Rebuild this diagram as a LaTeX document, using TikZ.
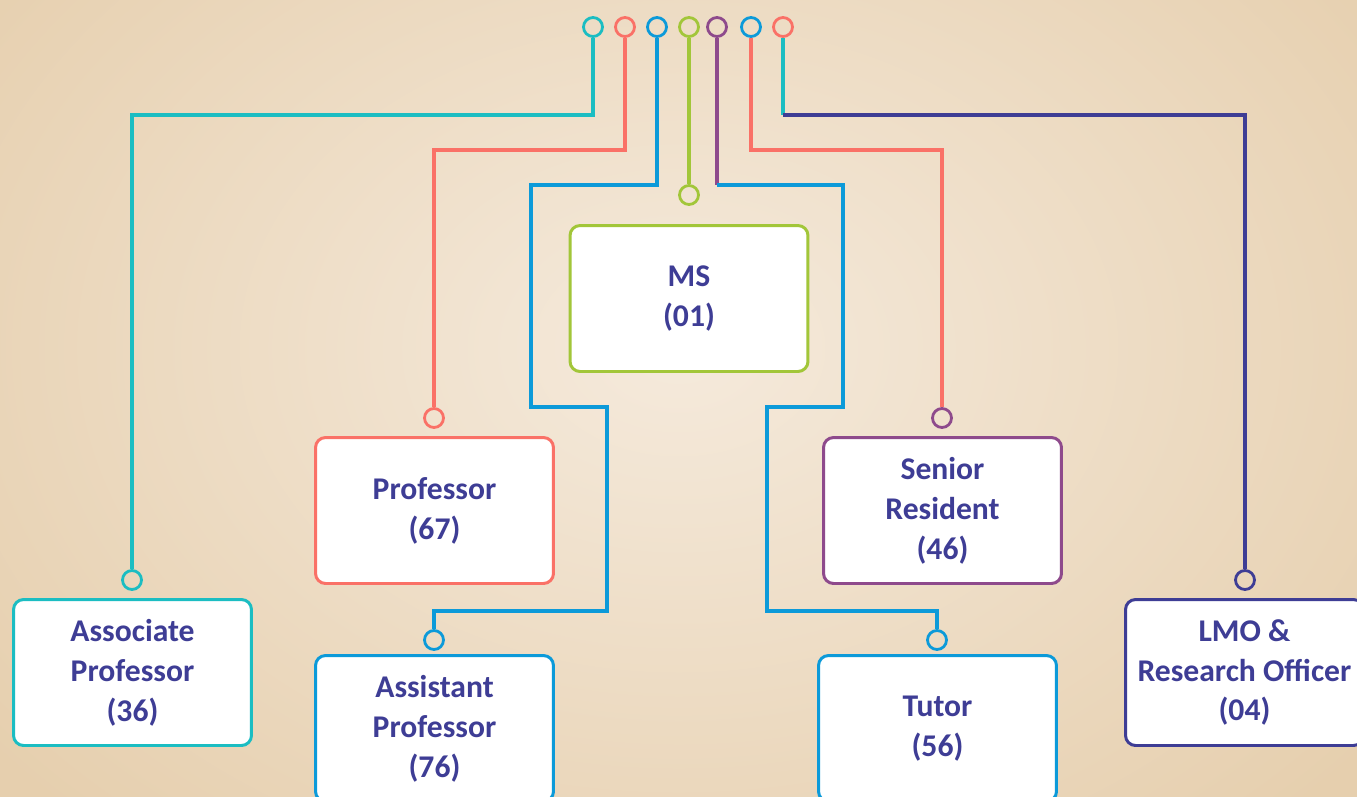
\documentclass[tikz,border=0pt]{standalone}
\usepackage{fontspec}
\setmainfont{Carlito}
\usepackage{xcolor}
\definecolor{lteal}{HTML}{1BBDC2}
\definecolor{lsalmon}{HTML}{FA7167}
\definecolor{lblue}{HTML}{0C9AD9}
\definecolor{lgreen}{HTML}{A2C639}
\definecolor{lpurple}{HTML}{8E4A8C}
\definecolor{lindigo}{HTML}{3E3D95}
\definecolor{bgin}{HTML}{F5EADC}
\definecolor{bgout}{HTML}{E6CFAE}
\begin{document}
\begin{tikzpicture}[x=0.02cm, y=-0.02cm,
    ln/.style={line width=1.9pt},
    ring/.style={circle, draw=#1, line width=1.6pt, minimum size=0.38cm, inner sep=0pt},
    post/.style={draw=#1, fill=white, line width=1.7pt, rounded corners=0.2cm,
      minimum width=4.76cm, minimum height=2.92cm, align=center, text=lindigo,
      font=\fontsize{18}{22.7}\selectfont\bfseries}]
    \clip (0,0) rectangle (1357,796);
    \shade[inner color=bgin, outer color=bgout] (-200,-300) rectangle (1557,996);
    \node[ring=lteal] (t1) at (593, 27) {};
    \node[ring=lsalmon] (t2) at (625, 27) {};
    \node[ring=lblue] (t3) at (657, 27) {};
    \node[ring=lgreen] (t4) at (689, 27) {};
    \node[ring=lpurple] (t5) at (717, 27) {};
    \node[ring=lblue] (t6) at (751, 27) {};
    \node[ring=lsalmon] (t7) at (783, 27) {};
    \node[ring=lgreen] (cms) at (689, 195) {};
    \node[ring=lsalmon] (cpr) at (434, 418) {};
    \node[ring=lpurple] (csr) at (942, 418) {};
    \node[ring=lteal] (cas) at (132, 580) {};
    \node[ring=lindigo] (clmo) at (1245, 580) {};
    \node[ring=lblue] (cap) at (434, 640) {};
    \node[ring=lblue] (ctu) at (937, 640) {};
    \node[post=lgreen] (ms) at (689, 298.5) {MS\\(01)};
    \node[post=lsalmon] (pr) at (434.5, 510.5) {Professor\\(67)};
    \node[post=lpurple] (sr) at (942.5, 510.5) {Senior\\Resident\\(46)};
    \node[post=lteal] (as) at (132.5, 672.5) {Associate\\Professor\\(36)};
    \node[post=lblue] (ap) at (434.5, 728.5) {Assistant\\Professor\\(76)};
    \node[post=lblue] (tu) at (937.5, 728.5) {Tutor\\(56)};
    \node[post=lindigo] (lmo) at (1244.5, 672.5) {LMO \&\\Research Officer\\(04)};
    \coordinate (k5) at (717, 185);
    \coordinate (k7) at (783, 115);
    \draw [ln, lteal] (t1.south) |- (132, 115) -- (cas.north);
    \draw [ln, lsalmon] (t2.south) |- (434, 150) -- (cpr.north);
    \draw [ln, lblue] (t3.south) |- (531, 185) |- (607, 407) |- (434, 611) -- (cap.north);
    \draw [ln, lgreen] (t4.south) -- (cms.north);
    \draw [ln, lpurple] (t5.south) -- (k5);
    \draw [ln, lblue] (k5) -| (843, 407) -| (767, 611) -| (ctu.north);
    \draw [ln, lsalmon] (t6.south) |- (942, 150) -- (csr.north);
    \draw [ln, lteal] (t7.south) -- (k7);
    \draw [ln, lindigo] (k7) -| (clmo.north);
\end{tikzpicture}
\end{document}
